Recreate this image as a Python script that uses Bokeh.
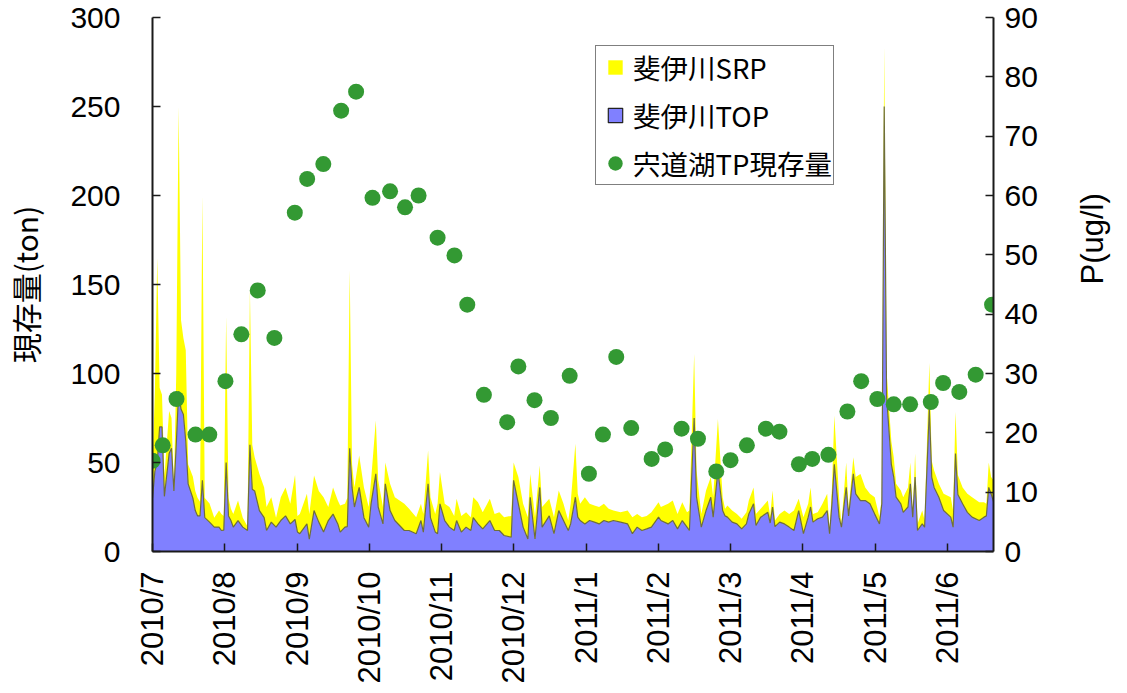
from math import pi
from bokeh.plotting import figure
from bokeh.models import (Range1d, LinearAxis, FixedTicker, Legend, LegendItem)
from bokeh.embed import file_html
from bokeh.resources import INLINE

# ---- data -------------------------------------------------------------
# day offset from 2010/7/1 (axis shows 12 evenly spaced monthly ticks)
days = [0, 1, 2, 3, 4, 5, 7, 8, 9, 10, 11, 12, 13, 14, 15, 17, 18, 19, 20, 21,
        22, 24, 26, 28, 29, 30, 31, 32, 33, 34, 36, 38, 40, 41, 42, 43, 45, 47, 48, 50,
        52, 54, 56, 58, 60, 61, 62, 65, 66, 68, 70, 72, 74, 76, 78, 79, 81, 82, 83, 84,
        85, 87, 89, 91, 92, 94, 95, 97, 98, 100, 102, 104, 106, 108, 111, 113, 114, 116, 117, 119,
        120, 121, 123, 125, 127, 128, 130, 132, 134, 135, 137, 139, 142, 144, 146, 148, 151, 152, 154, 156,
        158, 159, 161, 163, 164, 167, 169, 171, 173, 175, 176, 178, 179, 180, 182, 184, 186, 188, 190, 192,
        194, 197, 200, 202, 204, 206, 208, 210, 213, 214, 217, 219, 221, 223, 225, 226, 228, 229, 231, 233,
        235, 236, 238, 240, 241, 242, 244, 246, 248, 250, 251, 253, 254, 256, 259, 260, 261, 262, 264, 266,
        268, 270, 272, 274, 276, 277, 278, 280, 282, 284, 285, 286, 287, 289, 290, 292, 293, 295, 296, 298,
        300, 302, 304, 306, 307, 308, 309, 311, 312, 313, 315, 316, 318, 319, 320, 321, 322, 324, 325, 327,
        328, 329, 331, 333, 336, 337, 338, 339, 341, 343, 345, 348, 350, 351, 352, 353, 354]

top_ton = [30, 45, 50, 70, 70, 31, 55, 58, 34, 60, 90, 80, 77, 62, 38, 30, 23, 20, 20, 40,
           19, 16.5, 13.7, 13.7, 11.8, 12, 50, 20, 17.4, 13.7, 17.4, 13.7, 11.8, 60, 35, 34, 23, 19, 11.8, 16.5,
           13.7, 17.4, 20, 15.5, 18, 11, 10, 15.5, 7, 23, 16.5, 10.9, 17.4, 21, 15.5, 10.9, 13.7, 14, 58, 36,
           25, 36, 19, 13.7, 26.8, 43.6, 25, 15.5, 38, 23, 17.4, 14.6, 11.8, 11.8, 10, 17.4, 10.9, 38, 19, 11,
           10, 26.8, 17.4, 13.7, 11.8, 17.4, 10.9, 13.7, 11.8, 19, 15.5, 12.7, 17.4, 11.8, 11.8, 9, 8, 40, 26.8, 13.7,
           7, 30.5, 7, 36, 13.7, 20, 10, 23, 17.4, 11.8, 15.5, 30.5, 19.3, 17.4, 15.5, 17.4, 16.5, 15.5, 17.4, 16.5,
           17.4, 16.5, 15.5, 10, 13.7, 11.8, 12.7, 13.7, 19.3, 17.4, 15.5, 17.4, 12.7, 17.4, 13.7, 11.8, 75, 30.5, 13.7, 23,
           30.5, 19.3, 45.5, 23, 20, 19.3, 16.5, 15.5, 12.7, 15.5, 21, 26.8, 14.6, 19.3, 22, 16, 25, 14, 16.5, 15.5,
           13.7, 11.8, 23, 10, 19.3, 25, 16.5, 18.4, 19.3, 23, 10, 26.8, 49, 19.3, 13.7, 36, 20, 43.6, 32.4, 28.6,
           28.6, 26.8, 21, 15.5, 26.8, 250, 87, 49, 41.8, 30.5, 26.8, 22, 25, 38, 19.3, 41.8, 11.8, 15.5, 13.7, 80,
           41.8, 36, 30.5, 23, 19.3, 13.7, 55, 32, 26.8, 22, 19.3, 17.4, 19.3, 20, 36, 32.4, 28]

srp_ton = [18, 45, 115, 22, 18, 11, 24, 17, 2, 40, 160, 50, 43, 51, 11, 12, 11, 10, 8, 160,
           11, 10.5, 5.3, 9.3, 9.2, 8, 82, 10, 6.6, 7.3, 11.2, 5.3, 2.2, 87, 25, 19, 20.6, 17, 13.2, 14,
           5.3, 13.1, 16, 11.3, 25, 9, 11, 16.9, 14, 19.7, 17.5, 19.6, 7.6, 15, 13.1, 14.9, 13.1, 16, 100, 13,
           11, 18, 17, 11.3, 13.2, 30, 15, 9.5, 12, 15, 13.1, 14, 15, 12.2, 9.3, 9.4, 10.1, 18.7, 11.5, 10,
           16.8, 17.8, 9.4, 11.3, 8.2, 12.2, 9.1, 8.3, 7.5, 11.5, 12.2, 9.3, 12.2, 9.2, 10.2, 10.3, 12, 10, 15, 13.1,
           12.3, 13.1, 12.3, 12.3, 11.3, 9.6, 9.3, 11.3, 9.4, 5.6, 11.3, 30, 13.1, 9.4, 15, 9.4, 9.3, 9.5, 9.4, 7.5,
           5.6, 5.5, 7.5, 9.3, 7.3, 7.5, 7.3, 8.3, 8.4, 7.6, 11.3, 11.2, 8.3, 10.3, 8.3, 11.2, 36, 15, 7.3, 11.3,
           11.3, 11.2, 29, 7.5, 4, 6.5, 6.5, 5.5, 5.7, 6.5, 7.6, 9.2, 6.4, 4.7, 6.6, 4, 9.3, 3.4, 4.5, 7.5,
           7.3, 11.2, 6.6, 9.3, 7.5, 11, 4.5, 3.6, 7.5, 9.4, 2, 9.2, 27.4, 11.2, 1.8, 14, 4, 9.4, 9.4, 15,
           7.4, 5.6, 9.5, 3.8, 3.7, 34, 14, 13, 11.2, 7.5, 7.5, 8.5, 11, 12, 1.7, 13.2, 3.7, 7.5, 3.7, 26,
           9.2, 9.5, 7.5, 9.4, 11.2, 9.3, 23.5, 11, 9.2, 10.4, 11.2, 10.3, 8.4, 6.8, 14, 9.4, 12]

# 宍道湖 TP (ug/l), right axis
lake_days = [0, 4.3, 10.1, 18.1, 23.9, 30.7, 37.4, 44.3, 51.3, 59.9, 65.1, 71.9, 79.4, 85.7,
             92.6, 100.0, 106.3, 112.0, 120.0, 127.1, 132.5, 139.5, 149.3, 154.0, 160.8, 167.7,
             175.6, 183.7, 189.6, 195.2, 201.5, 210.1, 215.8, 222.7, 229.6, 237.3, 243.3, 250.2,
             258.2, 263.9, 272.1, 277.7, 284.5, 292.5, 298.3, 305.1, 312.0, 318.9, 327.6, 332.8,
             339.6, 346.5, 353.4]
lake_tp = [15.3, 17.9, 25.7, 19.7, 19.7, 28.7, 36.6, 44.0, 36.0, 57.1, 62.8, 65.3, 74.3, 77.5,
           59.6, 60.7, 58.0, 60.0, 52.9, 49.9, 41.6, 26.4, 21.8, 31.2, 25.5, 22.5,
           29.6, 13.1, 19.7, 32.8, 20.8, 15.6, 17.2, 20.7, 19.0, 13.5, 15.4, 17.9,
           20.7, 20.2, 14.7, 15.6, 16.3, 23.6, 28.7, 25.7, 24.8, 24.8, 25.2, 28.4,
           26.9, 29.8, 41.6]

month_labels = ["2010/7", "2010/8", "2010/9", "2010/10", "2010/11", "2010/12",
                "2011/1", "2011/2", "2011/3", "2011/4", "2011/5", "2011/6"]
left_ticks = [0, 50, 100, 150, 200, 250, 300]
right_ticks = [0, 10, 20, 30, 40, 50, 60, 70, 80, 90]

# ---- figure -----------------------------------------------------------
X_END = 354
month_len = 365 / 12
month_pos = [i * month_len for i in range(len(month_labels))]
total = [a + b for a, b in zip(top_ton, srp_ton)]

p = figure(frame_width=841, frame_height=534, output_backend="svg", toolbar_location=None,
           x_range=Range1d(0, X_END), y_range=Range1d(0, 300),
           min_border_left=152, min_border_top=17, min_border_right=127, min_border_bottom=135)
p.extra_y_ranges = {"right": Range1d(0, 90)}
p.outline_line_color = None
p.xgrid.visible = False
p.ygrid.visible = False
p.background_fill_color = "white"

TICK_FONT = "Liberation Sans"
JP_FONT = "Noto Sans CJK JP"

p.varea(x=days, y1=[0] * len(days), y2=top_ton, fill_color="#8080FF")
p.varea(x=days, y1=top_ton, y2=total, fill_color="#FFFF00")
p.line(x=days, y=top_ton, line_color="#6e6e3a", line_width=1.2)
dots = p.scatter(x=lake_days, y=lake_tp, y_range_name="right", size=16,
                 fill_color="#339933", line_color=None)

# legend proxies (not drawn in the plot: NaN position)
nan = float("nan")
leg_srp = p.scatter(x=[nan], y=[nan], marker="square", fill_color="#FFFF00", line_color=None)
leg_top = p.scatter(x=[nan], y=[nan], marker="square", fill_color="#8080FF",
                    line_color="#222222", line_width=1.2)

# axes
xa = p.xaxis[0]
xa.ticker = FixedTicker(ticks=month_pos)
xa.major_label_overrides = {m: lab for m, lab in zip(month_pos, month_labels)}
xa.major_label_orientation = pi / 2
xa.minor_tick_line_color = None
xa.major_tick_in = 8
xa.major_tick_out = 0
xa.major_label_standoff = 20

ya = p.yaxis[0]
ya.ticker = FixedTicker(ticks=left_ticks)
ya.minor_tick_line_color = None
ya.major_tick_in = 8
ya.major_tick_out = 0
ya.major_label_standoff = 32
ya.axis_label = "現存量(ton)"
ya.axis_label_text_font = JP_FONT
ya.axis_label_text_font_size = "30px"
ya.axis_label_text_font_style = "normal"
ya.axis_label_standoff = 20

ra = LinearAxis(y_range_name="right", ticker=FixedTicker(ticks=right_ticks))
ra.minor_tick_line_color = None
ra.major_tick_in = 8
ra.major_tick_out = 0
ra.major_label_standoff = 11
ra.axis_label = "P(ug/l)"
ra.axis_label_text_font = TICK_FONT
ra.axis_label_text_font_size = "31px"
ra.axis_label_text_font_style = "normal"
ra.axis_label_standoff = 52
try:
    ra.axis_label_orientation = pi / 2
except Exception:
    pass
p.add_layout(ra, "right")

for ax in (xa, ya, ra):
    ax.axis_line_color = "#1a1a1a"
    ax.axis_line_width = 2
    ax.major_tick_line_color = "#1a1a1a"
    ax.major_tick_line_width = 1.5
    ax.major_label_text_font = TICK_FONT
    ax.major_label_text_font_size = "30px"
    ax.major_label_text_color = "black"
    ax.axis_label_text_color = "black"
xa.major_label_text_font_size = "31px"

legend = Legend(items=[LegendItem(label="斐伊川SRP", renderers=[leg_srp]),
                       LegendItem(label="斐伊川TOP", renderers=[leg_top]),
                       LegendItem(label="宍道湖TP現存量", renderers=[dots])],
                location=(443, 366), orientation="vertical",
                glyph_width=36, glyph_height=38, spacing=8, padding=1, margin=0,
                label_standoff=0, label_text_font=JP_FONT, label_text_font_size="27.5px",
                label_text_color="black", label_text_baseline="middle",
                border_line_color="black", border_line_width=1,
                background_fill_color="white", background_fill_alpha=1)
p.add_layout(legend, "center")

open("out.html", "w").write(file_html(p, INLINE))
